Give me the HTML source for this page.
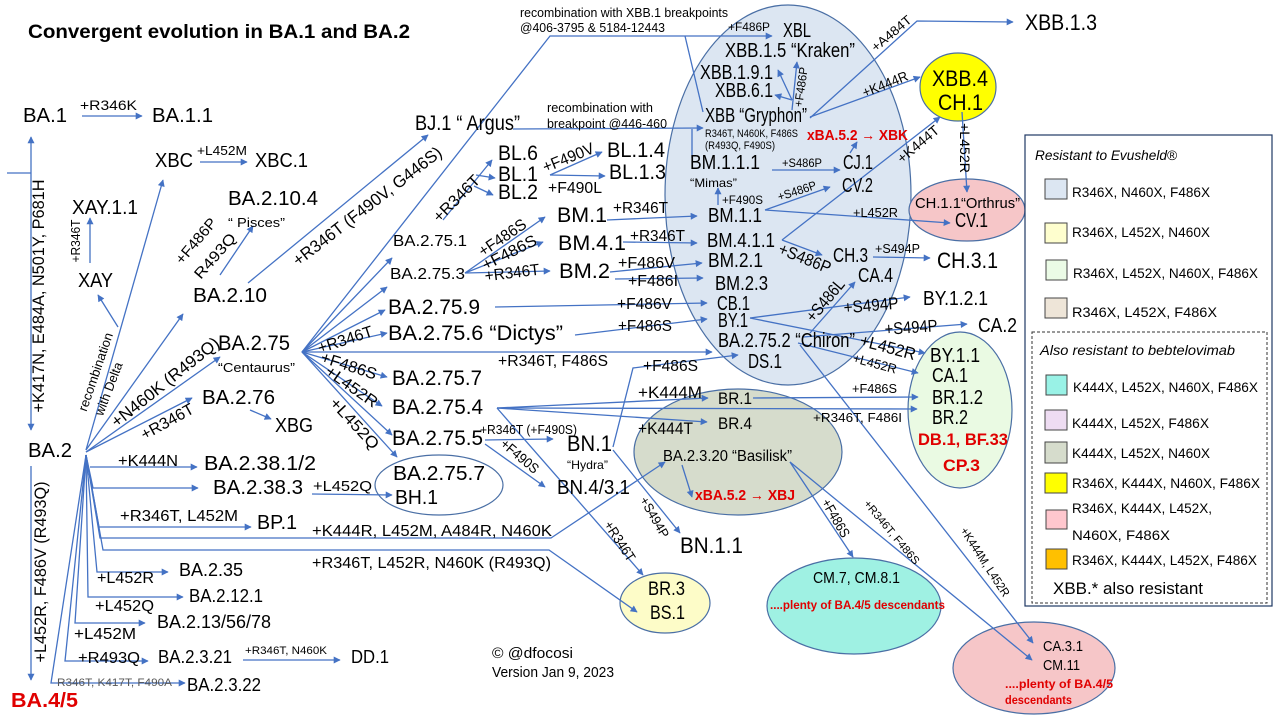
<!DOCTYPE html>
<html><head><meta charset="utf-8"><style>
html,body{margin:0;padding:0;background:#fff;}
svg{display:block;}
text{font-family:"Liberation Sans",sans-serif;fill:#000;}
.r{fill:#e00000;font-weight:bold;}
.i{font-style:italic;}
</style></head><body>
<svg width="1280" height="720" viewBox="0 0 1280 720" xmlns="http://www.w3.org/2000/svg">
<defs><marker id="a" viewBox="0 0 10 10" refX="9" refY="5" markerWidth="9" markerHeight="7" markerUnits="userSpaceOnUse" orient="auto"><path d="M0,0L10,5L0,10z" fill="#4472c4"/></marker></defs>
<rect width="1280" height="720" fill="#fff"/>

<!-- ellipses -->
<g stroke="#4a6fa5" stroke-width="1.2">
<ellipse cx="788" cy="195" rx="123" ry="190" fill="#dce6f2"/>
<ellipse cx="958" cy="87" rx="38" ry="34" fill="#ffff00"/>
<ellipse cx="967" cy="210" rx="58" ry="31" fill="#f6c6c8"/>
<ellipse cx="960" cy="410" rx="52" ry="78" fill="#eafae3"/>
<ellipse cx="738" cy="452" rx="104" ry="63" fill="#d6dccc"/>
<ellipse cx="439" cy="485" rx="64" ry="30" fill="#fff"/>
<ellipse cx="665" cy="603" rx="45" ry="30" fill="#fdfcc8"/>
<ellipse cx="854" cy="606" rx="87" ry="48" fill="#9ff1e3"/>
<ellipse cx="1034" cy="668" rx="81" ry="46" fill="#f6c6c8"/>
</g>

<!-- legend -->
<rect x="1025" y="135" width="247" height="471" fill="#fff" stroke="#1f3864" stroke-width="1.2"/>
<rect x="1032" y="332" width="235" height="271" fill="none" stroke="#333" stroke-width="1" stroke-dasharray="3,2"/>
<g stroke="#444" stroke-width="1">
<rect x="1045" y="179" width="22" height="20" fill="#dce6f2"/>
<rect x="1045" y="223" width="22" height="20" fill="#fefece"/>
<rect x="1046" y="260" width="21" height="20" fill="#ebfbe6"/>
<rect x="1045" y="298" width="22" height="20" fill="#eee5d8"/>
<rect x="1046" y="375" width="21" height="20" fill="#99f2e6"/>
<rect x="1045" y="410" width="22" height="20" fill="#eedcf2"/>
<rect x="1045" y="442" width="22" height="21" fill="#d6dccc"/>
<rect x="1045" y="473" width="22" height="20" fill="#ffff00"/>
<rect x="1046" y="510" width="21" height="19" fill="#ffc7ce"/>
<rect x="1046" y="549" width="21" height="20" fill="#ffc000"/>
</g>
<text class="i" x="1035" y="160" font-size="14" textLength="142" lengthAdjust="spacingAndGlyphs">Resistant to Evusheld®</text>
<text x="1072" y="197" font-size="14" textLength="138" lengthAdjust="spacingAndGlyphs">R346X, N460X, F486X</text>
<text x="1072" y="237" font-size="14" textLength="138" lengthAdjust="spacingAndGlyphs">R346X, L452X, N460X</text>
<text x="1073" y="278" font-size="14" textLength="185" lengthAdjust="spacingAndGlyphs">R346X, L452X, N460X, F486X</text>
<text x="1072" y="317" font-size="14" textLength="145" lengthAdjust="spacingAndGlyphs">R346X, L452X, F486X</text>
<text class="i" x="1040" y="355" font-size="14" textLength="195" lengthAdjust="spacingAndGlyphs">Also resistant to bebtelovimab</text>
<text x="1073" y="392" font-size="14" textLength="185" lengthAdjust="spacingAndGlyphs">K444X, L452X, N460X, F486X</text>
<text x="1072" y="428" font-size="14" textLength="137" lengthAdjust="spacingAndGlyphs">K444X, L452X, F486X</text>
<text x="1072" y="458" font-size="14" textLength="138" lengthAdjust="spacingAndGlyphs">K444X, L452X, N460X</text>
<text x="1072" y="488" font-size="14" textLength="188" lengthAdjust="spacingAndGlyphs">R346X, K444X, N460X, F486X</text>
<text x="1072" y="513" font-size="14" textLength="140" lengthAdjust="spacingAndGlyphs">R346X, K444X, L452X,</text>
<text x="1072" y="540" font-size="14" textLength="98" lengthAdjust="spacingAndGlyphs">N460X, F486X</text>
<text x="1072" y="565" font-size="14" textLength="185" lengthAdjust="spacingAndGlyphs">R346X, K444X, L452X, F486X</text>
<text x="1053" y="594" font-size="17" textLength="150" lengthAdjust="spacingAndGlyphs">XBB.* also resistant</text>

<!-- connectors -->
<g stroke="#4472c4" stroke-width="1.3" fill="none">
<path d="M82,116L142,116" marker-end="url(#a)"/>
<path d="M200,162L247,162" marker-end="url(#a)"/>
<path d="M31,173L31,137" marker-end="url(#a)"/>
<path d="M31,173L31,430" marker-end="url(#a)"/>
<path d="M7,173L31,173"/>
<path d="M31,466L31,680" marker-end="url(#a)"/>
<path d="M90,263L90,218" marker-end="url(#a)"/>
<path d="M86,450L163,180" marker-end="url(#a)"/>
<path d="M118,327L98,295" marker-end="url(#a)"/>
<path d="M86,450L183,314" marker-end="url(#a)"/>
<path d="M86,452L220,357" marker-end="url(#a)"/>
<path d="M86,452L192,398" marker-end="url(#a)"/>
<path d="M250,410L271,419" marker-end="url(#a)"/>
<path d="M220,275L253,226" marker-end="url(#a)"/>
<path d="M248,283L428,135" marker-end="url(#a)"/>
<path d="M90,467L197,467" marker-end="url(#a)"/>
<path d="M86,455L93,488L198,488" marker-end="url(#a)"/>
<path d="M86,455L99,527L251,527" marker-end="url(#a)"/>
<path d="M86,455L100,538L551,538L665,462" marker-end="url(#a)"/>
<path d="M86,455L103,550L549,550L637,612" marker-end="url(#a)"/>
<path d="M86,455L97,572L168,572" marker-end="url(#a)"/>
<path d="M86,455L88,597L183,597" marker-end="url(#a)"/>
<path d="M86,455L75,623L145,623" marker-end="url(#a)"/>
<path d="M86,455L65,661L148,661" marker-end="url(#a)"/>
<path d="M86,455L51,683L185,683" marker-end="url(#a)"/>
<path d="M243,660L340,660" marker-end="url(#a)"/>
<path d="M312,494L392,495" marker-end="url(#a)"/>

<path d="M302,352L392,258" marker-end="url(#a)"/>
<path d="M302,352L387,287" marker-end="url(#a)"/>
<path d="M302,352L385,310" marker-end="url(#a)"/>
<path d="M302,352L387,333" marker-end="url(#a)"/>
<path d="M302,352L712,352" marker-end="url(#a)"/>
<path d="M302,352L387,377" marker-end="url(#a)"/>
<path d="M302,352L382,406" marker-end="url(#a)"/>
<path d="M302,352L392,435" marker-end="url(#a)"/>
<path d="M302,352L397,457" marker-end="url(#a)"/>
<path d="M302,352L550,36L772,36" marker-end="url(#a)"/>
<path d="M685,36L703,112"/>

<path d="M443,220L492,160" marker-end="url(#a)"/>
<path d="M476,175L495,178" marker-end="url(#a)"/>
<path d="M474,186L493,195" marker-end="url(#a)"/>
<path d="M550,175L602,152" marker-end="url(#a)"/>
<path d="M550,175L605,176" marker-end="url(#a)"/>
<path d="M513,129L703,128" marker-end="url(#a)"/>
<path d="M692,129L692,158"/>
<path d="M465,273L545,217" marker-end="url(#a)"/>
<path d="M465,273L543,242" marker-end="url(#a)"/>
<path d="M465,273L550,271" marker-end="url(#a)"/>
<path d="M607,220L697,216" marker-end="url(#a)"/>
<path d="M623,242L697,243" marker-end="url(#a)"/>
<path d="M610,272L702,263" marker-end="url(#a)"/>
<path d="M615,279L703,278" marker-end="url(#a)"/>
<path d="M495,307L707,303" marker-end="url(#a)"/>
<path d="M575,335L707,319" marker-end="url(#a)"/>

<path d="M497,408L708,398" marker-end="url(#a)"/>
<path d="M497,408L707,422" marker-end="url(#a)"/>
<path d="M497,408L917,409" marker-end="url(#a)"/>
<path d="M497,408L643,575" marker-end="url(#a)"/>
<path d="M753,398L918,397" marker-end="url(#a)"/>
<path d="M485,440L553,439" marker-end="url(#a)"/>
<path d="M485,444L545,487" marker-end="url(#a)"/>
<path d="M613,447L633,368L738,355" marker-end="url(#a)"/>
<path d="M613,450L680,533" marker-end="url(#a)"/>
<path d="M682,465L692,497" marker-end="url(#a)"/>
<path d="M790,462L853,557" marker-end="url(#a)"/>
<path d="M790,462L1032,660" marker-end="url(#a)"/>
<path d="M800,345L1033,643" marker-end="url(#a)"/>
<path d="M798,343L918,373" marker-end="url(#a)"/>
<path d="M750,318L925,353" marker-end="url(#a)"/>
<path d="M750,318L910,297" marker-end="url(#a)"/>
<path d="M810,333L855,282" marker-end="url(#a)"/>
<path d="M803,337L967,324" marker-end="url(#a)"/>
<path d="M873,257L930,258" marker-end="url(#a)"/>
<path d="M782,240L822,255" marker-end="url(#a)"/>
<path d="M782,240L940,117" marker-end="url(#a)"/>
<path d="M765,210L830,187" marker-end="url(#a)"/>
<path d="M765,210L950,223" marker-end="url(#a)"/>
<path d="M718,205L718,188" marker-end="url(#a)"/>
<path d="M772,170L840,170" marker-end="url(#a)"/>
<path d="M850,153L857,142" marker-end="url(#a)"/>
<path d="M810,118L917,21L1013,22" marker-end="url(#a)"/>
<path d="M810,117L920,77" marker-end="url(#a)"/>
<path d="M792,110L797,62" marker-end="url(#a)"/>
<path d="M792,100L778,70" marker-end="url(#a)"/>
<path d="M792,100L775,95" marker-end="url(#a)"/>
<path d="M962,112L967,192" marker-end="url(#a)"/>
</g>

<!-- left texts -->
<text x="28" y="38" font-size="19" font-weight="bold" textLength="382" lengthAdjust="spacingAndGlyphs">Convergent evolution in BA.1 and BA.2</text>
<text x="23" y="122" font-size="20" textLength="44" lengthAdjust="spacingAndGlyphs">BA.1</text>
<text x="80" y="110" font-size="14" textLength="57" lengthAdjust="spacingAndGlyphs">+R346K</text>
<text x="152" y="122" font-size="20" textLength="61" lengthAdjust="spacingAndGlyphs">BA.1.1</text>
<text x="155" y="167" font-size="20" textLength="38" lengthAdjust="spacingAndGlyphs">XBC</text>
<text x="197" y="155" font-size="13" textLength="50" lengthAdjust="spacingAndGlyphs">+L452M</text>
<text x="255" y="167" font-size="20" textLength="53" lengthAdjust="spacingAndGlyphs">XBC.1</text>
<text x="228" y="205" font-size="20" textLength="90" lengthAdjust="spacingAndGlyphs">BA.2.10.4</text>
<text x="228" y="227" font-size="13" textLength="57" lengthAdjust="spacingAndGlyphs">“ Pisces”</text>
<text x="72" y="214" font-size="20" textLength="66" lengthAdjust="spacingAndGlyphs">XAY.1.1</text>
<text x="78" y="287" font-size="20" textLength="35" lengthAdjust="spacingAndGlyphs">XAY</text>
<text x="193" y="302" font-size="20" textLength="74" lengthAdjust="spacingAndGlyphs">BA.2.10</text>
<text x="218" y="350" font-size="21" textLength="72" lengthAdjust="spacingAndGlyphs">BA.2.75</text>
<text x="218" y="372" font-size="13" textLength="77" lengthAdjust="spacingAndGlyphs">“Centaurus”</text>
<text x="202" y="404" font-size="20" textLength="73" lengthAdjust="spacingAndGlyphs">BA.2.76</text>
<text x="275" y="432" font-size="20" textLength="38" lengthAdjust="spacingAndGlyphs">XBG</text>
<text x="28" y="457" font-size="20" textLength="44" lengthAdjust="spacingAndGlyphs">BA.2</text>
<text x="118" y="466" font-size="16" textLength="60" lengthAdjust="spacingAndGlyphs">+K444N</text>
<text x="204" y="470" font-size="20" textLength="112" lengthAdjust="spacingAndGlyphs">BA.2.38.1/2</text>
<text x="213" y="494" font-size="20" textLength="90" lengthAdjust="spacingAndGlyphs">BA.2.38.3</text>
<text x="313" y="491" font-size="15" textLength="59" lengthAdjust="spacingAndGlyphs">+L452Q</text>
<text x="393" y="480" font-size="20" textLength="92" lengthAdjust="spacingAndGlyphs">BA.2.75.7</text>
<text x="395" y="504" font-size="20" textLength="43" lengthAdjust="spacingAndGlyphs">BH.1</text>
<text x="120" y="521" font-size="16" textLength="118" lengthAdjust="spacingAndGlyphs">+R346T, L452M</text>
<text x="257" y="529" font-size="20" textLength="40" lengthAdjust="spacingAndGlyphs">BP.1</text>
<text x="312" y="536" font-size="16" textLength="240" lengthAdjust="spacingAndGlyphs">+K444R, L452M, A484R, N460K</text>
<text x="312" y="568" font-size="16" textLength="239" lengthAdjust="spacingAndGlyphs">+R346T, L452R, N460K (R493Q)</text>
<text x="97" y="583" font-size="16" textLength="57" lengthAdjust="spacingAndGlyphs">+L452R</text>
<text x="179" y="576" font-size="18" textLength="64" lengthAdjust="spacingAndGlyphs">BA.2.35</text>
<text x="95" y="611" font-size="16" textLength="59" lengthAdjust="spacingAndGlyphs">+L452Q</text>
<text x="189" y="602" font-size="18" textLength="74" lengthAdjust="spacingAndGlyphs">BA.2.12.1</text>
<text x="157" y="628" font-size="18" textLength="114" lengthAdjust="spacingAndGlyphs">BA.2.13/56/78</text>
<text x="74" y="639" font-size="16" textLength="62" lengthAdjust="spacingAndGlyphs">+L452M</text>
<text x="78" y="663" font-size="16" textLength="62" lengthAdjust="spacingAndGlyphs">+R493Q</text>
<text x="158" y="663" font-size="18" textLength="74" lengthAdjust="spacingAndGlyphs">BA.2.3.21</text>
<text x="245" y="654" font-size="11" textLength="82" lengthAdjust="spacingAndGlyphs">+R346T, N460K</text>
<text x="351" y="663" font-size="18" textLength="38" lengthAdjust="spacingAndGlyphs">DD.1</text>
<text x="57" y="686" font-size="11" style="fill:#555" textLength="115" lengthAdjust="spacingAndGlyphs">R346T, K417T, F490A</text>
<text x="187" y="691" font-size="18" textLength="74" lengthAdjust="spacingAndGlyphs">BA.2.3.22</text>
<text class="r" x="11" y="707" font-size="20" textLength="67" lengthAdjust="spacingAndGlyphs">BA.4/5</text>
<text x="492" y="658" font-size="15" textLength="81" lengthAdjust="spacingAndGlyphs">©  @dfocosi</text>
<text x="492" y="677" font-size="15" textLength="122" lengthAdjust="spacingAndGlyphs">Version Jan 9, 2023</text>

<!-- rotated labels -->
<g text-anchor="middle">
<text transform="translate(38,296) rotate(-90)" y="6" font-size="17" textLength="233" lengthAdjust="spacingAndGlyphs">+K417N, E484A, N501Y, P681H</text>
<text transform="translate(75,241) rotate(-90)" y="5" font-size="13" textLength="43" lengthAdjust="spacingAndGlyphs">+R346T</text>
<text transform="translate(40,572) rotate(-90)" y="6" font-size="17" textLength="181" lengthAdjust="spacingAndGlyphs">+L452R, F486V (R493Q)</text>
<text transform="translate(96,372) rotate(-71)" y="4" font-size="13" textLength="82" lengthAdjust="spacingAndGlyphs">recombination</text>
<text transform="translate(109,389) rotate(-69)" y="4" font-size="13" textLength="56" lengthAdjust="spacingAndGlyphs">with Delta</text>
<text transform="translate(196,241) rotate(-50)" y="5" font-size="15" textLength="55" lengthAdjust="spacingAndGlyphs">+F486P</text>
<text transform="translate(215,256) rotate(-49)" y="5" font-size="15" textLength="55" lengthAdjust="spacingAndGlyphs">R493Q</text>
<text transform="translate(165,382) rotate(-38.6)" y="6" font-size="17" textLength="133" lengthAdjust="spacingAndGlyphs">+N460K (R493Q)</text>
<text transform="translate(167,421) rotate(-29)" y="6" font-size="16" textLength="58" lengthAdjust="spacingAndGlyphs">+R346T</text>
<text transform="translate(367,206) rotate(-37.7)" y="6" font-size="17" textLength="183" lengthAdjust="spacingAndGlyphs">+R346T (F490V, G446S)</text>
<text transform="translate(345,339) rotate(-18)" y="6" font-size="16" textLength="57" lengthAdjust="spacingAndGlyphs">+R346T</text>
<text transform="translate(349,365) rotate(18)" y="6" font-size="16" textLength="58" lengthAdjust="spacingAndGlyphs">+F486S</text>
<text transform="translate(352,386) rotate(35)" y="6" font-size="16" textLength="60" lengthAdjust="spacingAndGlyphs">+L452R</text>
<text transform="translate(355,423) rotate(47)" y="6" font-size="16" textLength="64" lengthAdjust="spacingAndGlyphs">+L452Q</text>
<text transform="translate(456,198) rotate(-45)" y="6" font-size="16" textLength="59" lengthAdjust="spacingAndGlyphs">+R346T</text>
<text transform="translate(568,157) rotate(-22)" y="6" font-size="16" textLength="54" lengthAdjust="spacingAndGlyphs">+F490V</text>
<text transform="translate(502,237) rotate(-34)" y="6" font-size="16" textLength="54" lengthAdjust="spacingAndGlyphs">+F486S</text>
<text transform="translate(509,252) rotate(-27)" y="6" font-size="16" textLength="59" lengthAdjust="spacingAndGlyphs">+F486S</text>
<text transform="translate(512,272) rotate(-7)" y="6" font-size="16" textLength="55" lengthAdjust="spacingAndGlyphs">+R346T</text>
<text transform="translate(520,456) rotate(40)" y="5" font-size="14" textLength="45" lengthAdjust="spacingAndGlyphs">+F490S</text>
<text transform="translate(655,517) rotate(60)" y="5" font-size="13" textLength="45" lengthAdjust="spacingAndGlyphs">+S494P</text>
<text transform="translate(620,541) rotate(57)" y="5" font-size="14" textLength="45" lengthAdjust="spacingAndGlyphs">+R346T</text>
<text transform="translate(797,191) rotate(-18)" y="4" font-size="12" textLength="40" lengthAdjust="spacingAndGlyphs">+S486P</text>
<text transform="translate(805,258) rotate(22)" y="6" font-size="17" textLength="55" lengthAdjust="spacingAndGlyphs">+S486P</text>
<text transform="translate(825,300) rotate(-50)" y="6" font-size="17" textLength="50" lengthAdjust="spacingAndGlyphs">+S486L</text>
<text transform="translate(871,305) rotate(-5)" y="6" font-size="17" textLength="55" lengthAdjust="spacingAndGlyphs">+S494P</text>
<text transform="translate(911,327) rotate(-4)" y="6" font-size="17" textLength="53" lengthAdjust="spacingAndGlyphs">+S494P</text>
<text transform="translate(888,347) rotate(15)" y="6" font-size="17" textLength="57" lengthAdjust="spacingAndGlyphs">+L452R</text>
<text transform="translate(875,363) rotate(15)" y="5" font-size="13" textLength="45" lengthAdjust="spacingAndGlyphs">+L452R</text>
<text transform="translate(836,518) rotate(60)" y="5" font-size="14" textLength="42" lengthAdjust="spacingAndGlyphs">+F486S</text>
<text transform="translate(892,532) rotate(50)" y="4" font-size="11" textLength="80" lengthAdjust="spacingAndGlyphs">+R346T, F486S</text>
<text transform="translate(985,562) rotate(57)" y="4" font-size="12" textLength="80" lengthAdjust="spacingAndGlyphs">+K444M, L452R</text>
<text transform="translate(891,33) rotate(-40)" y="5" font-size="13" textLength="48" lengthAdjust="spacingAndGlyphs">+A484T</text>
<text transform="translate(885,84) rotate(-22)" y="5" font-size="14" textLength="48" lengthAdjust="spacingAndGlyphs">+K444R</text>
<text transform="translate(918,144) rotate(-40)" y="5" font-size="14" textLength="50" lengthAdjust="spacingAndGlyphs">+K444T</text>
<text transform="translate(965,148) rotate(90)" y="5" font-size="14" textLength="50" lengthAdjust="spacingAndGlyphs">+L452R</text>
<text transform="translate(801,87) rotate(-82)" y="4" font-size="12" textLength="40" lengthAdjust="spacingAndGlyphs">+F486P</text>
</g>

<!-- middle texts -->
<text x="415" y="130" font-size="21" textLength="105" lengthAdjust="spacingAndGlyphs">BJ.1 “ Argus”</text>
<text x="520" y="17" font-size="13" textLength="208" lengthAdjust="spacingAndGlyphs">recombination with XBB.1 breakpoints</text>
<text x="520" y="32" font-size="13" textLength="145" lengthAdjust="spacingAndGlyphs">@406-3795 &amp; 5184-12443</text>
<text x="547" y="112" font-size="13" textLength="106" lengthAdjust="spacingAndGlyphs">recombination with</text>
<text x="547" y="128" font-size="13" textLength="120" lengthAdjust="spacingAndGlyphs">breakpoint @446-460</text>
<text x="498" y="160" font-size="21" textLength="40" lengthAdjust="spacingAndGlyphs">BL.6</text>
<text x="498" y="181" font-size="21" textLength="40" lengthAdjust="spacingAndGlyphs">BL.1</text>
<text x="498" y="199" font-size="21" textLength="40" lengthAdjust="spacingAndGlyphs">BL.2</text>
<text x="548" y="193" font-size="16" textLength="54" lengthAdjust="spacingAndGlyphs">+F490L</text>
<text x="607" y="157" font-size="21" textLength="58" lengthAdjust="spacingAndGlyphs">BL.1.4</text>
<text x="609" y="179" font-size="21" textLength="57" lengthAdjust="spacingAndGlyphs">BL.1.3</text>
<text x="393" y="246" font-size="16" textLength="74" lengthAdjust="spacingAndGlyphs">BA.2.75.1</text>
<text x="390" y="279" font-size="16" textLength="75" lengthAdjust="spacingAndGlyphs">BA.2.75.3</text>
<text x="557" y="222" font-size="21" textLength="50" lengthAdjust="spacingAndGlyphs">BM.1</text>
<text x="558" y="250" font-size="21" textLength="68" lengthAdjust="spacingAndGlyphs">BM.4.1</text>
<text x="559" y="278" font-size="21" textLength="51" lengthAdjust="spacingAndGlyphs">BM.2</text>
<text x="613" y="213" font-size="16" textLength="55" lengthAdjust="spacingAndGlyphs">+R346T</text>
<text x="630" y="241" font-size="16" textLength="55" lengthAdjust="spacingAndGlyphs">+R346T</text>
<text x="618" y="268" font-size="16" textLength="57" lengthAdjust="spacingAndGlyphs">+F486V</text>
<text x="628" y="286" font-size="16" textLength="50" lengthAdjust="spacingAndGlyphs">+F486I</text>
<text x="388" y="314" font-size="21" textLength="92" lengthAdjust="spacingAndGlyphs">BA.2.75.9</text>
<text x="617" y="309" font-size="16" textLength="55" lengthAdjust="spacingAndGlyphs">+F486V</text>
<text x="388" y="340" font-size="21" textLength="175" lengthAdjust="spacingAndGlyphs">BA.2.75.6 “Dictys”</text>
<text x="618" y="331" font-size="16" textLength="54" lengthAdjust="spacingAndGlyphs">+F486S</text>
<text x="498" y="366" font-size="16" textLength="110" lengthAdjust="spacingAndGlyphs">+R346T, F486S</text>
<text x="392" y="385" font-size="21" textLength="90" lengthAdjust="spacingAndGlyphs">BA.2.75.7</text>
<text x="392" y="414" font-size="21" textLength="91" lengthAdjust="spacingAndGlyphs">BA.2.75.4</text>
<text x="392" y="445" font-size="21" textLength="91" lengthAdjust="spacingAndGlyphs">BA.2.75.5</text>
<text x="480" y="434" font-size="13" textLength="97" lengthAdjust="spacingAndGlyphs">+R346T (+F490S)</text>
<text x="567" y="451" font-size="22" textLength="45" lengthAdjust="spacingAndGlyphs">BN.1</text>
<text x="567" y="469" font-size="12" textLength="41" lengthAdjust="spacingAndGlyphs">“Hydra”</text>
<text x="557" y="494" font-size="20" textLength="73" lengthAdjust="spacingAndGlyphs">BN.4/3.1</text>
<text x="643" y="371" font-size="16" textLength="55" lengthAdjust="spacingAndGlyphs">+F486S</text>
<text x="638" y="398" font-size="17" textLength="64" lengthAdjust="spacingAndGlyphs">+K444M</text>
<text x="638" y="434" font-size="17" textLength="55" lengthAdjust="spacingAndGlyphs">+K444T</text>
<text x="718" y="404" font-size="17" textLength="34" lengthAdjust="spacingAndGlyphs">BR.1</text>
<text x="718" y="429" font-size="17" textLength="34" lengthAdjust="spacingAndGlyphs">BR.4</text>
<text x="663" y="461" font-size="16" textLength="129" lengthAdjust="spacingAndGlyphs">BA.2.3.20 “Basilisk”</text>
<text class="r" x="695" y="500" font-size="15" textLength="100" lengthAdjust="spacingAndGlyphs">xBA.5.2 → XBJ</text>
<text x="680" y="553" font-size="22" textLength="63" lengthAdjust="spacingAndGlyphs">BN.1.1</text>
<text x="648" y="595" font-size="19" textLength="37" lengthAdjust="spacingAndGlyphs">BR.3</text>
<text x="650" y="619" font-size="19" textLength="35" lengthAdjust="spacingAndGlyphs">BS.1</text>

<!-- blue ellipse texts -->
<text x="728" y="31" font-size="12" textLength="42" lengthAdjust="spacingAndGlyphs">+F486P</text>
<text x="783" y="37" font-size="20" textLength="28" lengthAdjust="spacingAndGlyphs">XBL</text>
<text x="725" y="57" font-size="20" textLength="130" lengthAdjust="spacingAndGlyphs">XBB.1.5 “Kraken”</text>
<text x="700" y="79" font-size="20" textLength="73" lengthAdjust="spacingAndGlyphs">XBB.1.9.1</text>
<text x="715" y="97" font-size="20" textLength="58" lengthAdjust="spacingAndGlyphs">XBB.6.1</text>
<text x="705" y="122" font-size="20" textLength="102" lengthAdjust="spacingAndGlyphs">XBB “Gryphon”</text>
<text x="705" y="137" font-size="11" textLength="93" lengthAdjust="spacingAndGlyphs">R346T, N460K, F486S</text>
<text x="705" y="149" font-size="11" textLength="70" lengthAdjust="spacingAndGlyphs">(R493Q, F490S)</text>
<text class="r" x="807" y="140" font-size="15" textLength="101" lengthAdjust="spacingAndGlyphs">xBA.5.2 → XBK</text>
<text x="690" y="169" font-size="20" textLength="70" lengthAdjust="spacingAndGlyphs">BM.1.1.1</text>
<text x="690" y="187" font-size="12" textLength="47" lengthAdjust="spacingAndGlyphs">“Mimas”</text>
<text x="782" y="167" font-size="12" textLength="40" lengthAdjust="spacingAndGlyphs">+S486P</text>
<text x="843" y="169" font-size="20" textLength="30" lengthAdjust="spacingAndGlyphs">CJ.1</text>
<text x="842" y="192" font-size="20" textLength="31" lengthAdjust="spacingAndGlyphs">CV.2</text>
<text x="722" y="204" font-size="12" textLength="41" lengthAdjust="spacingAndGlyphs">+F490S</text>
<text x="708" y="222" font-size="20" textLength="54" lengthAdjust="spacingAndGlyphs">BM.1.1</text>
<text x="853" y="217" font-size="13" textLength="45" lengthAdjust="spacingAndGlyphs">+L452R</text>
<text x="707" y="247" font-size="20" textLength="68" lengthAdjust="spacingAndGlyphs">BM.4.1.1</text>
<text x="833" y="262" font-size="20" textLength="35" lengthAdjust="spacingAndGlyphs">CH.3</text>
<text x="875" y="253" font-size="13" textLength="45" lengthAdjust="spacingAndGlyphs">+S494P</text>
<text x="937" y="268" font-size="22" textLength="61" lengthAdjust="spacingAndGlyphs">CH.3.1</text>
<text x="708" y="267" font-size="20" textLength="55" lengthAdjust="spacingAndGlyphs">BM.2.1</text>
<text x="715" y="290" font-size="20" textLength="53" lengthAdjust="spacingAndGlyphs">BM.2.3</text>
<text x="858" y="282" font-size="20" textLength="35" lengthAdjust="spacingAndGlyphs">CA.4</text>
<text x="717" y="310" font-size="20" textLength="33" lengthAdjust="spacingAndGlyphs">CB.1</text>
<text x="718" y="327" font-size="20" textLength="30" lengthAdjust="spacingAndGlyphs">BY.1</text>
<text x="923" y="305" font-size="20" textLength="65" lengthAdjust="spacingAndGlyphs">BY.1.2.1</text>
<text x="978" y="332" font-size="20" textLength="39" lengthAdjust="spacingAndGlyphs">CA.2</text>
<text x="718" y="347" font-size="20" textLength="137" lengthAdjust="spacingAndGlyphs">BA.2.75.2 “Chiron”</text>
<text x="748" y="368" font-size="20" textLength="34" lengthAdjust="spacingAndGlyphs">DS.1</text>

<!-- right texts -->
<text x="1025" y="30" font-size="22" textLength="72" lengthAdjust="spacingAndGlyphs">XBB.1.3</text>
<text x="932" y="86" font-size="22" textLength="56" lengthAdjust="spacingAndGlyphs">XBB.4</text>
<text x="938" y="110" font-size="22" textLength="45" lengthAdjust="spacingAndGlyphs">CH.1</text>
<text x="915" y="208" font-size="15" textLength="105" lengthAdjust="spacingAndGlyphs">CH.1.1“Orthrus”</text>
<text x="955" y="227" font-size="20" textLength="33" lengthAdjust="spacingAndGlyphs">CV.1</text>
<text x="930" y="362" font-size="20" textLength="50" lengthAdjust="spacingAndGlyphs">BY.1.1</text>
<text x="932" y="382" font-size="20" textLength="36" lengthAdjust="spacingAndGlyphs">CA.1</text>
<text x="932" y="404" font-size="20" textLength="51" lengthAdjust="spacingAndGlyphs">BR.1.2</text>
<text x="932" y="424" font-size="20" textLength="36" lengthAdjust="spacingAndGlyphs">BR.2</text>
<text class="r" x="918" y="445" font-size="17" textLength="90" lengthAdjust="spacingAndGlyphs">DB.1, BF.33</text>
<text class="r" x="943" y="471" font-size="17" textLength="37" lengthAdjust="spacingAndGlyphs">CP.3</text>
<text x="852" y="393" font-size="13" textLength="45" lengthAdjust="spacingAndGlyphs">+F486S</text>
<text x="813" y="422" font-size="13" textLength="89" lengthAdjust="spacingAndGlyphs">+R346T, F486I</text>
<text x="813" y="583" font-size="16" textLength="87" lengthAdjust="spacingAndGlyphs">CM.7, CM.8.1</text>
<text class="r" x="770" y="609" font-size="12" textLength="175" lengthAdjust="spacingAndGlyphs">....plenty of BA.4/5 descendants</text>
<text x="1043" y="651" font-size="15" textLength="40" lengthAdjust="spacingAndGlyphs">CA.3.1</text>
<text x="1043" y="670" font-size="15" textLength="37" lengthAdjust="spacingAndGlyphs">CM.11</text>
<text class="r" x="1005" y="688" font-size="12" textLength="108" lengthAdjust="spacingAndGlyphs">....plenty of BA.4/5</text>
<text class="r" x="1005" y="704" font-size="12" textLength="67" lengthAdjust="spacingAndGlyphs">descendants</text>
</svg>
</body></html>
